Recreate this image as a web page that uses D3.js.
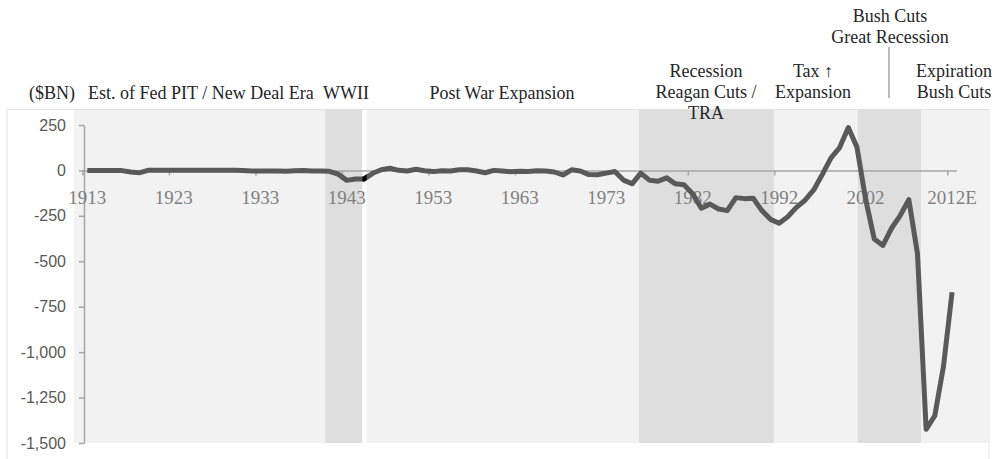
<!DOCTYPE html>
<html>
<head>
<meta charset="utf-8">
<script src="https://cdn.jsdelivr.net/npm/d3@7"></script>
<style>
  body { margin: 0; background: #fff; }
  svg { display: block; }
</style>
</head>
<body>
<svg id="chart"></svg>
<script>
"use strict";

// fiscal years, incl. the 1976 transition quarter
const categories = [
  "1913", "1914", "1915", "1916", "1917", "1918", "1919", "1920", "1921", "1922",
  "1923", "1924", "1925", "1926", "1927", "1928", "1929", "1930", "1931", "1932",
  "1933", "1934", "1935", "1936", "1937", "1938", "1939", "1940", "1941", "1942",
  "1943", "1944", "1945", "1946", "1947", "1948", "1949", "1950", "1951", "1952",
  "1953", "1954", "1955", "1956", "1957", "1958", "1959", "1960", "1961", "1962",
  "1963", "1964", "1965", "1966", "1967", "1968", "1969", "1970", "1971", "1972",
  "1973", "1974", "1975", "1976", "TQ", "1977", "1978", "1979", "1980", "1981",
  "1982", "1983", "1984", "1985", "1986", "1987", "1988", "1989", "1990", "1991",
  "1992", "1993", "1994", "1995", "1996", "1997", "1998", "1999", "2000", "2001",
  "2002", "2003", "2004", "2005", "2006", "2007", "2008", "2009", "2010", "2011",
  "2012E"
];

// surplus / deficit, $BN
const deficit = [
  0, 0, -0.1, 0, -0.9, -9, -13.4, 0.3, 0.5, 0.7,
  0.7, 1, 0.7, 0.9, 1.2, 0.9, 0.7, 0.7, -0.5, -2.7,
  -2.6, -3.6, -2.8, -4.3, -2.2, -0.1, -2.8, -2.9, -4.9, -20.5,
  -54.6, -47.6, -47.6, -15.9, 4, 11.8, 0.6, -3.1, 6.1, -1.5,
  -6.5, -1.2, -3, 3.9, 3.4, -2.8, -12.8, 0.3, -3.3, -7.1,
  -4.8, -5.9, -1.4, -3.7, -8.6, -25.2, 3.2, -2.8, -23, -23.4,
  -14.9, -6.1, -53.2, -73.7, -14.7, -53.7, -59.2, -40.7, -73.8, -79,
  -128, -207.8, -185.4, -212.3, -221.2, -149.7, -155.2, -152.6, -221, -269.2,
  -290.3, -255.1, -203.2, -164, -107.4, -21.9, 69.3, 125.6, 236.2, 128.2,
  -157.8, -377.6, -412.7, -318.3, -248.2, -160.7, -458.6, -1425, -1350, -1080,
  -670
];

const xTickLabels = ["1913", "1923", "1933", "1943", "1953", "1963", "1973", "1982", "1992", "2002", "2012E"];
const yTickValues = [250, 0, -250, -500, -750, -1000, -1250, -1500];

// shaded eras, in category units (0 = centre of first category)
const eraBands = [[27.5, 31.8], [63.8, 79.4], [89.1, 96.4]];
const eraGap = [31.8, 32.3];

const eraLabels = [
  ["($BN)"],
  ["Est. of Fed PIT / New Deal Era"],
  ["WWII"],
  ["Post War Expansion"],
  ["Recession", "Reagan Cuts /", "TRA"],
  ["Tax \u2191", "Expansion"],
  ["Bush Cuts", "Great Recession"],
  ["Expiration", "Bush Cuts"]
];
const eraLabelPos = [
  [29, 99, "start"], [88, 99, "start"], [346, 99, "middle"], [502, 99, "middle"],
  [706, 77, "middle"], [813, 77, "middle"], [890, 22, "middle"], [954, 77, "middle"]
];

const width = 1003;
const height = 459;
const plot = { left: 74, right: 989, top: 110, bottom: 443 };

const svg = d3.select("#chart").attr("width", width).attr("height", height);

const x = d3.scaleBand().domain(categories).range([83, 956.4]).padding(0);
const bw = x.bandwidth();
const xi = (i) => x.range()[0] + bw / 2 + i * bw;
const xc = (c) => x(c) + bw / 2;

const y = d3.scaleLinear().domain([-1500, 250]).range([443, 125]);

// chart border + plot area
svg.append("rect")
  .attr("x", 7).attr("y", 109.5)
  .attr("width", plot.right - 7).attr("height", height)
  .attr("fill", "none").attr("stroke", "#e3e3e3");

svg.append("rect")
  .attr("x", plot.left).attr("y", plot.top)
  .attr("width", plot.right - plot.left).attr("height", plot.bottom - plot.top)
  .attr("fill", "#f2f2f2");

svg.selectAll("rect.era")
  .data(eraBands)
  .join("rect")
  .attr("class", "era")
  .attr("x", (d) => xi(d[0]))
  .attr("width", (d) => xi(d[1]) - xi(d[0]))
  .attr("y", plot.top)
  .attr("height", plot.bottom - plot.top)
  .attr("fill", "#dedede");

svg.append("rect")
  .attr("x", xi(eraGap[0]))
  .attr("width", xi(eraGap[1]) - xi(eraGap[0]))
  .attr("y", plot.top)
  .attr("height", plot.bottom - plot.top)
  .attr("fill", "#ffffff");

svg.append("clipPath").attr("id", "gapClip")
  .append("rect")
  .attr("x", xi(eraGap[0]))
  .attr("width", xi(eraGap[1]) - xi(eraGap[0]))
  .attr("y", plot.top)
  .attr("height", plot.bottom - plot.top);

// y axis
const yAxis = d3.axisLeft(y)
  .tickValues(yTickValues)
  .tickSize(5)
  .tickSizeOuter(0)
  .tickPadding(13)
  .tickFormat((d) => d3.format(",")(d).replace("\u2212", "-"));

const gy = svg.append("g")
  .attr("transform", `translate(${x.range()[0] + 1},0)`)
  .call(yAxis);
gy.select(".domain").attr("stroke", "#a6a6a6").attr("stroke-width", 1.5);
gy.selectAll(".tick line").attr("stroke", "#a6a6a6").attr("stroke-width", 1.5);
gy.selectAll(".tick text")
  .attr("fill", "#595959")
  .style("font-family", "'Liberation Sans', Arial, sans-serif")
  .style("font-size", "16px");

// category axis on the zero line
const xAxis = d3.axisBottom(x)
  .tickValues(xTickLabels)
  .tickSize(0)
  .tickPadding(34);

const gx = svg.append("g")
  .attr("transform", `translate(0,${y(0)})`)
  .call(xAxis);
gx.select(".domain").attr("stroke", "#a6a6a6").attr("stroke-width", 1.5);
gx.selectAll(".tick text")
  .attr("fill", "#808080")
  .attr("dy", "0")
  .style("font-family", "'Liberation Serif', 'Times New Roman', serif")
  .style("font-size", "19px");

gx.selectAll("line.tk")
  .data(xTickLabels)
  .join("line")
  .attr("class", "tk")
  .attr("x1", (d) => x(d)).attr("x2", (d) => x(d))
  .attr("y1", 0).attr("y2", 5)
  .attr("stroke", "#a6a6a6").attr("stroke-width", 1.5);

// deficit line
const line = d3.line()
  .x((d, i) => xc(categories[i]))
  .y((d) => y(d));

svg.append("path")
  .datum(deficit)
  .attr("d", line)
  .attr("fill", "none")
  .attr("stroke", "#595959")
  .attr("stroke-width", 5)
  .attr("stroke-linejoin", "round");

svg.append("path")
  .datum(deficit)
  .attr("d", line)
  .attr("clip-path", "url(#gapClip)")
  .attr("fill", "none")
  .attr("stroke", "#000")
  .attr("stroke-width", 5);

// era annotations
const labels = svg.selectAll("text.era")
  .data(eraLabels)
  .join("text")
  .attr("class", "era")
  .attr("x", (d, i) => eraLabelPos[i][0])
  .attr("y", (d, i) => eraLabelPos[i][1])
  .attr("text-anchor", (d, i) => eraLabelPos[i][2])
  .attr("fill", "#262626")
  .style("font-family", "'Liberation Serif', 'Times New Roman', serif")
  .style("font-size", "18px");

labels.selectAll("tspan")
  .data((d, i) => d.map((t) => ({ t, x: eraLabelPos[i][0] })))
  .join("tspan")
  .attr("x", (d) => d.x)
  .attr("dy", (d, j) => (j === 0 ? 0 : 21))
  .text((d) => d.t);

svg.append("line")
  .attr("x1", 889).attr("x2", 889)
  .attr("y1", 47).attr("y2", 98)
  .attr("stroke", "#a6a6a6")
  .attr("stroke-width", 1.5);
</script>
</body>
</html>
